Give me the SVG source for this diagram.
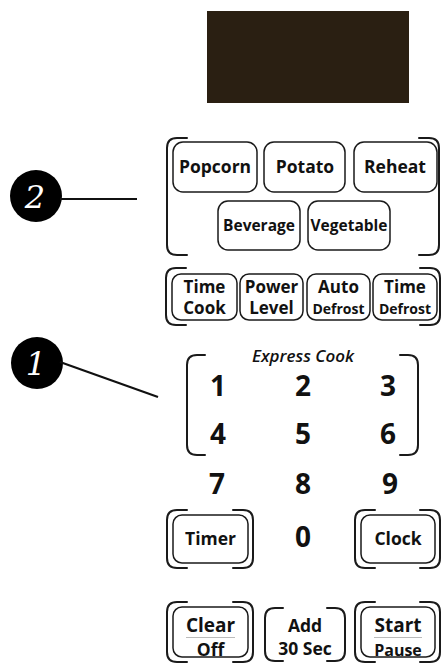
<svg xmlns="http://www.w3.org/2000/svg" width="441" height="666" viewBox="0 0 441 666">
<style>
.br{fill:none;stroke:#1a1a1a;stroke-width:2;stroke-linecap:round}
.btn{fill:#fff;stroke:#1a1a1a;stroke-width:1.5}
.t{font-family:"Open Sans",Lato,"Liberation Sans",sans-serif;font-weight:700;fill:#111;text-anchor:middle}
.l{font-size:17.5px}
.m{font-size:17px}
.s{font-size:15.5px}
.d{font-size:28px}
.c{fill:#000}
.cn{font-family:"DejaVu Serif","Liberation Serif",serif;font-style:italic;font-size:32px;fill:#fff;text-anchor:middle}
.ln{stroke:#111;stroke-width:2.2;fill:none}
.sep{stroke:#bbb;stroke-width:1}
</style>
<rect id="display" x="207" y="11" width="202" height="92" fill="#2a1f12"/>
<g id="callout-2"><circle class="c" cx="36" cy="196" r="26"/><text class="cn" x="35" y="208">2</text></g>
<g id="callout-1"><circle class="c" cx="37" cy="363" r="26"/><text class="cn" x="36" y="375">1</text></g>
<g id="connectors">
<line class="ln" x1="60" y1="199" x2="137" y2="199"/>
<line class="ln" x1="60" y1="362" x2="158" y2="397"/>
</g>
<g id="group-auto">
<path class="br" d="M187,138 H177 Q167,138 167,148 V245 Q167,255 177,255 H187 M419,138 H429 Q439,138 439,148 V245 Q439,255 429,255 H419"/>
</g>
<g id="popcorn"><rect class="btn" x="173" y="142" width="84" height="50" rx="10"/><text class="t l" x="215" y="173">Popcorn</text></g>
<g id="potato"><rect class="btn" x="264" y="142" width="81" height="50" rx="10"/><text class="t l" x="305" y="173">Potato</text></g>
<g id="reheat"><rect class="btn" x="354" y="142" width="83" height="50" rx="10"/><text class="t l" x="395" y="173">Reheat</text></g>
<g id="beverage"><rect class="btn" x="218" y="201" width="82" height="49" rx="10"/><text class="t s" x="259" y="231">Beverage</text></g>
<g id="vegetable"><rect class="btn" x="308" y="201" width="82" height="49" rx="10"/><text class="t s" x="349" y="231">Vegetable</text></g>
<g id="group-time">
<path class="br" d="M186,268 H176 Q166,268 166,278 V315 Q166,325 176,325 H186 M420,268 H430 Q440,268 440,278 V315 Q440,325 430,325 H420"/>
</g>
<g id="time-cook"><rect class="btn" x="172" y="274" width="65" height="46" rx="9"/><text class="t m" x="204.5" y="293">Time</text><text class="t m" x="204.5" y="314">Cook</text></g>
<g id="power-level"><rect class="btn" x="240" y="274" width="63" height="46" rx="9"/><text class="t m" x="271.5" y="293">Power</text><text class="t m" x="271.5" y="314">Level</text></g>
<g id="auto-defrost"><rect class="btn" x="307" y="274" width="63" height="46" rx="9"/><text class="t m" x="338.5" y="293">Auto</text><text class="t" x="338.5" y="314" style="font-size:14px">Defrost</text></g>
<g id="time-defrost"><rect class="btn" x="373" y="274" width="64" height="46" rx="9"/><text class="t m" x="405" y="293">Time</text><text class="t" x="405" y="314" style="font-size:14px">Defrost</text></g>
<g id="express-cook">
<path class="br" d="M205,355 H197 Q187,355 187,365 V445 Q187,455 197,455 H205 M400,355 H408 Q418,355 418,365 V445 Q418,455 408,455 H400"/>
<text class="t" x="303" y="362" style="font-size:17px;font-style:italic;font-weight:600">Express Cook</text>
</g>
<g id="digits">
<text class="t d" x="218" y="396">1</text><text class="t d" x="303" y="396">2</text><text class="t d" x="388" y="396">3</text>
<text class="t d" x="218" y="444">4</text><text class="t d" x="303" y="444">5</text><text class="t d" x="388" y="444">6</text>
<text class="t d" x="217" y="494">7</text><text class="t d" x="303" y="494">8</text><text class="t d" x="390" y="494">9</text>
<text class="t d" x="303" y="547">0</text>
</g>
<g id="timer">
<path class="br" d="M187,510 H177 Q167,510 167,520 V558 Q167,568 177,568 H187 M233,510 H243 Q253,510 253,520 V558 Q253,568 243,568 H233"/>
<rect class="btn" x="173" y="515" width="75" height="48" rx="9"/><text class="t l" x="210.5" y="545">Timer</text>
</g>
<g id="clock">
<path class="br" d="M375,510 H365 Q355,510 355,520 V558 Q355,568 365,568 H375 M420,510 H430 Q440,510 440,520 V558 Q440,568 430,568 H420"/>
<rect class="btn" x="361" y="515" width="74" height="48" rx="9"/><text class="t l" x="398" y="545">Clock</text>
</g>
<g id="clear-off">
<path class="br" d="M187,602 H177 Q167,602 167,612 V652 Q167,662 177,662 H187 M233,602 H243 Q253,602 253,612 V652 Q253,662 243,662 H233"/>
<rect class="btn" x="173" y="607" width="75" height="50" rx="9"/>
<text class="t" x="210.5" y="632" style="font-size:19px">Clear</text><line class="sep" x1="186" y1="637.5" x2="235" y2="637.5"/><text class="t l" x="210.5" y="656">Off</text>
</g>
<g id="add-30">
<path class="br" d="M283,608 H275 Q265,608 265,618 V651 Q265,661 275,661 H283 M327,608 H335 Q345,608 345,618 V651 Q345,661 335,661 H327"/>
<text class="t l" x="305" y="632">Add</text><text class="t l" x="305" y="655">30 Sec</text>
</g>
<g id="start-pause">
<path class="br" d="M375,602 H365 Q355,602 355,612 V652 Q355,662 365,662 H375 M420,602 H430 Q440,602 440,612 V652 Q440,662 430,662 H420"/>
<rect class="btn" x="361" y="607" width="74" height="50" rx="9"/>
<text class="t" x="398" y="632" style="font-size:19px">Start</text><line class="sep" x1="374" y1="637.5" x2="422" y2="637.5"/><text class="t" x="398" y="656" style="font-size:16px">Pause</text>
</g>
</svg>
